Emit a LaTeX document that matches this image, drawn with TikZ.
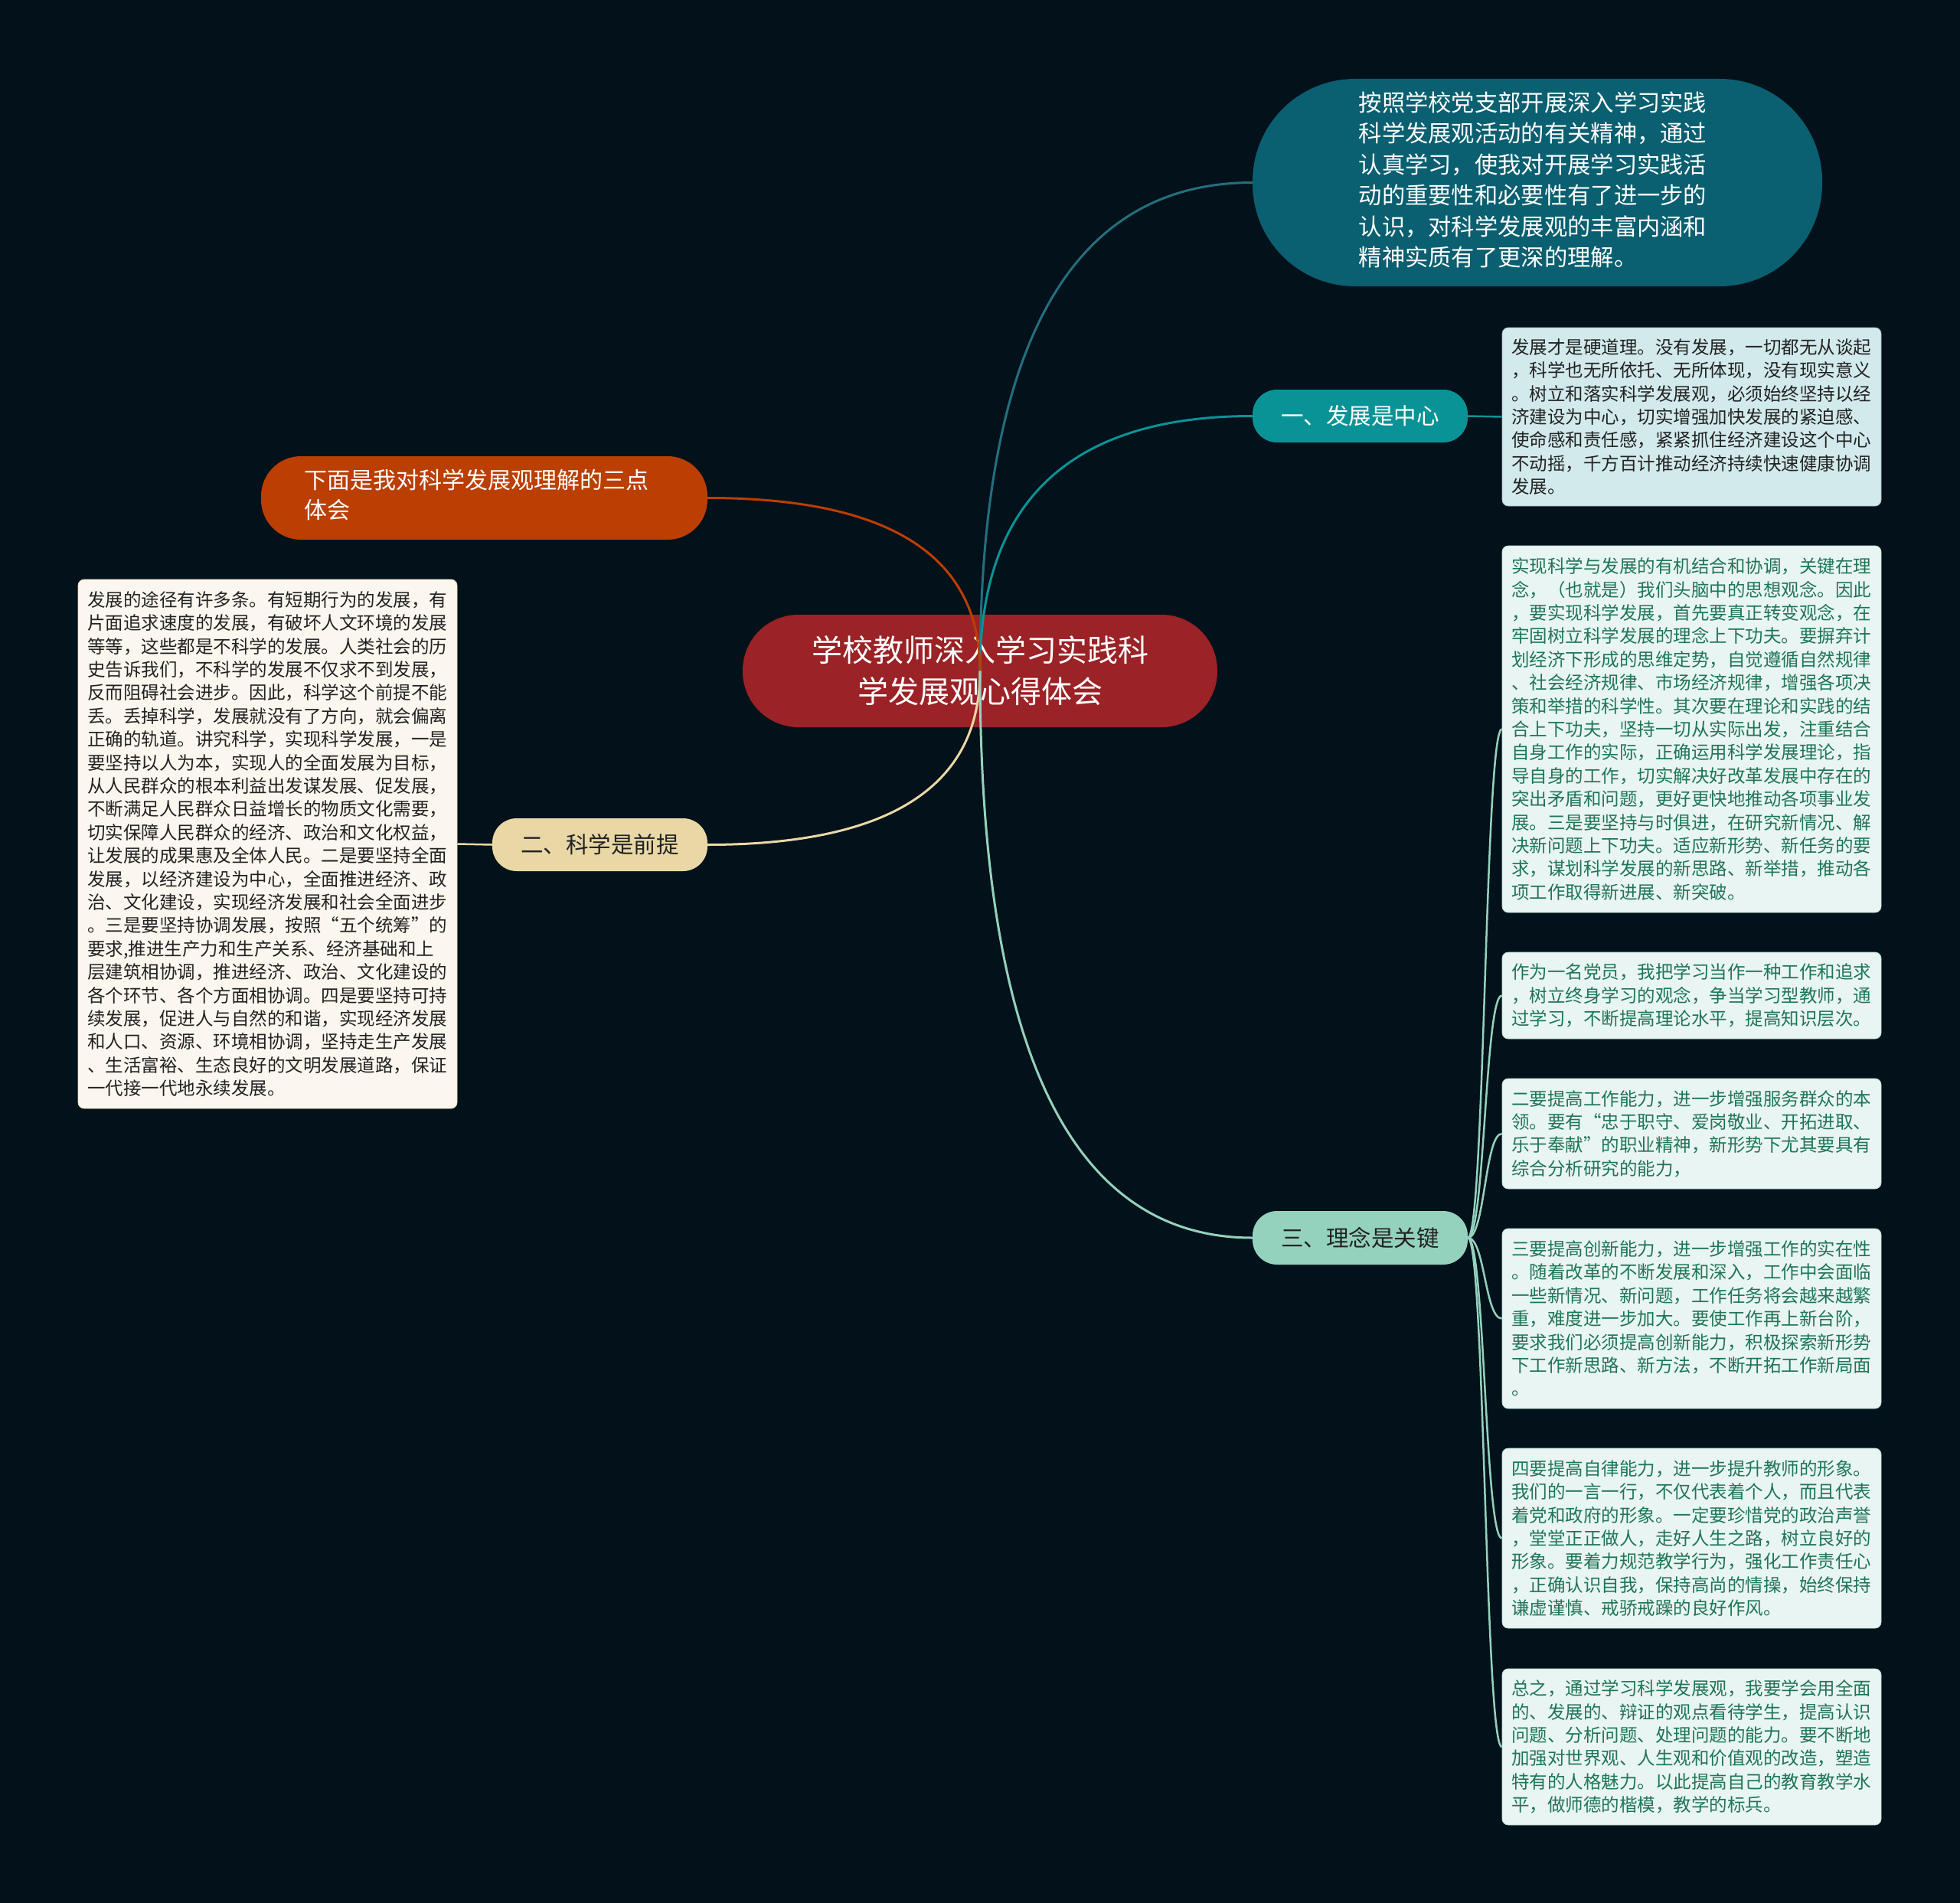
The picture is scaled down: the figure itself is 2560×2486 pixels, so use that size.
\documentclass[tikz,border=0pt]{standalone}
\usepackage{fontspec}
\setmainfont{Noto Sans CJK SC}
\usetikzlibrary{calc}
\definecolor{bgc}{HTML}{03111A}
\definecolor{rootc}{HTML}{9B2226}
\definecolor{topc}{HTML}{0A5F70}
\definecolor{onec}{HTML}{0A9396}
\definecolor{threec}{HTML}{94D2BD}
\definecolor{orangec}{HTML}{BB3E03}
\definecolor{twoc}{HTML}{E9D8A6}
\definecolor{boxblue}{HTML}{D2EAEC}
\definecolor{boxmint}{HTML}{E9F5F2}
\definecolor{boxcream}{HTML}{FBF7EE}
\definecolor{greentext}{HTML}{1F7558}
\definecolor{darktext}{HTML}{222222}
\newcommand\mmlink[3]{%
  \coordinate (mmc) at (#2 |- #3);
  \draw[#1] (#2) .. controls ($(#2)!0.667!(mmc)$) and ($(#3)!0.667!(mmc)$) .. (#3);}
\newcommand\mmsub[3]{%
  \coordinate (mmm) at ($(#2)!0.5!(#3)$);
  \draw[#1] (#2) .. controls (mmm |- #2) and (mmm |- #3) .. (#3);}
\begin{document}
\begin{tikzpicture}[x=1pt,y=-1pt,
  pillnode/.style={rounded corners=#1, inner sep=0pt, align=center},
  detail/.style={rounded corners=8pt, inner xsep=12pt, inner ysep=0pt,
    text width=471pt, align=left, minimum width=495pt,
    font=\fontsize{23.5}{30.4}\selectfont},
  conn/.style={line width=3pt},
  subconn/.style={line width=2.5pt}]
\fill[bgc] (0,0) rectangle (2560,2486);
\useasboundingbox (0,0) rectangle (2560,2486);

% root
\node[pillnode=73pt, fill=rootc, text=white, minimum width=620pt, minimum height=147pt,
  font=\fontsize{40}{54}\selectfont] (root) at (1280,876.5)
  {学校教师深入学习实践科\\学发展观心得体会};

% top right
\node[pillnode=134pt, fill=topc, text=white, minimum width=744pt, minimum height=271pt,
  font=\fontsize{30.3}{40.5}\selectfont] (top) at (2008,238.5)
  {\begin{tabular}{@{}l@{}}按照学校党支部开展深入学习实践\\科学发展观活动的有关精神，通过\\认真学习，使我对开展学习实践活\\动的重要性和必要性有了进一步的\\认识，对科学发展观的丰富内涵和\\精神实质有了更深的理解。\end{tabular}\hspace*{12pt}};

% branch one
\node[pillnode=32pt, fill=onec, text=white, minimum width=281pt, minimum height=69pt,
  font=\fontsize{29.5}{36}\selectfont] (n1) at (1776.5,543.5) {一、发展是中心};
\node[detail, fill=boxblue, draw=boxblue!80!black, line width=0.8pt, text=darktext, minimum height=233pt] (b1) at (2209.5,544.5)
  {发展才是硬道理。没有发展，一切都无从谈起\\，科学也无所依托、无所体现，没有现实意义\\。树立和落实科学发展观，必须始终坚持以经\\济建设为中心，切实增强加快发展的紧迫感、\\使命感和责任感，紧紧抓住经济建设这个中心\\不动摇，千方百计推动经济持续快速健康协调\\发展。};

% branch three
\node[pillnode=32pt, fill=threec, text=darktext, minimum width=281pt, minimum height=70pt,
  font=\fontsize{29.5}{36}\selectfont] (n3) at (1776.5,1617) {三、理念是关键};
\tikzset{mint/.style={detail, fill=boxmint, draw=threec!60!boxmint, line width=0.8pt, text=greentext}}
\node[mint, minimum height=479pt] (b2) at (2209.5,952.5)
  {实现科学与发展的有机结合和协调，关键在理\\念，（也就是）我们头脑中的思想观念。因此\\，要实现科学发展，首先要真正转变观念，在\\牢固树立科学发展的理念上下功夫。要摒弃计\\划经济下形成的思维定势，自觉遵循自然规律\\、社会经济规律、市场经济规律，增强各项决\\策和举措的科学性。其次要在理论和实践的结\\合上下功夫，坚持一切从实际出发，注重结合\\自身工作的实际，正确运用科学发展理论，指\\导自身的工作，切实解决好改革发展中存在的\\突出矛盾和问题，更好更快地推动各项事业发\\展。三是要坚持与时俱进，在研究新情况、解\\决新问题上下功夫。适应新形势、新任务的要\\求，谋划科学发展的新思路、新举措，推动各\\项工作取得新进展、新突破。};
\node[mint, minimum height=113pt] (b3) at (2209.5,1300.5)
  {作为一名党员，我把学习当作一种工作和追求\\，树立终身学习的观念，争当学习型教师，通\\过学习，不断提高理论水平，提高知识层次。};
\node[mint, minimum height=144pt] (b4) at (2209.5,1481)
  {二要提高工作能力，进一步增强服务群众的本\\领。要有“忠于职守、爱岗敬业、开拓进取、\\乐于奉献”的职业精神，新形势下尤其要具有\\综合分析研究的能力，};
\node[mint, minimum height=235pt] (b5) at (2209.5,1722.5)
  {三要提高创新能力，进一步增强工作的实在性\\。随着改革的不断发展和深入，工作中会面临\\一些新情况、新问题，工作任务将会越来越繁\\重，难度进一步加大。要使工作再上新台阶，\\要求我们必须提高创新能力，积极探索新形势\\下工作新思路、新方法，不断开拓工作新局面\\。};
\node[mint, minimum height=235pt] (b6) at (2209.5,2009.5)
  {四要提高自律能力，进一步提升教师的形象。\\我们的一言一行，不仅代表着个人，而且代表\\着党和政府的形象。一定要珍惜党的政治声誉\\，堂堂正正做人，走好人生之路，树立良好的\\形象。要着力规范教学行为，强化工作责任心\\，正确认识自我，保持高尚的情操，始终保持\\谦虚谨慎、戒骄戒躁的良好作风。};
\node[mint, minimum height=204pt] (b7) at (2209.5,2282)
  {总之，通过学习科学发展观，我要学会用全面\\的、发展的、辩证的观点看待学生，提高认识\\问题、分析问题、处理问题的能力。要不断地\\加强对世界观、人生观和价值观的改造，塑造\\特有的人格魅力。以此提高自己的教育教学水\\平，做师德的楷模，教学的标兵。};

% left side
\node[pillnode=52pt, fill=orangec, text=white, minimum width=583pt, minimum height=109pt,
  font=\fontsize{30}{39}\selectfont] (orange) at (632.5,650.5)
  {\begin{tabular}{@{}l@{}}下面是我对科学发展观理解的三点\\体会\end{tabular}\hspace*{20pt}};
\node[pillnode=32pt, fill=twoc, text=darktext, minimum width=281pt, minimum height=69pt,
  font=\fontsize{29.5}{36}\selectfont] (n2) at (783.5,1103.5) {二、科学是前提};
\node[detail, fill=boxcream, draw=twoc!70!boxcream, line width=0.8pt, text=darktext, minimum height=691pt] (lb) at (349.5,1102.5)
  {发展的途径有许多条。有短期行为的发展，有\\片面追求速度的发展，有破坏人文环境的发展\\等等，这些都是不科学的发展。人类社会的历\\史告诉我们，不科学的发展不仅求不到发展，\\反而阻碍社会进步。因此，科学这个前提不能\\丢。丢掉科学，发展就没有了方向，就会偏离\\正确的轨道。讲究科学，实现科学发展，一是\\要坚持以人为本，实现人的全面发展为目标，\\从人民群众的根本利益出发谋发展、促发展，\\不断满足人民群众日益增长的物质文化需要，\\切实保障人民群众的经济、政治和文化权益，\\让发展的成果惠及全体人民。二是要坚持全面\\发展，以经济建设为中心，全面推进经济、政\\治、文化建设，实现经济发展和社会全面进步\\。三是要坚持协调发展，按照“五个统筹”的\\要求,推进生产力和生产关系、经济基础和上\\层建筑相协调，推进经济、政治、文化建设的\\各个环节、各个方面相协调。四是要坚持可持\\续发展，促进人与自然的和谐，实现经济发展\\和人口、资源、环境相协调，坚持走生产发展\\、生活富裕、生态良好的文明发展道路，保证\\一代接一代地永续发展。};

% connectors
\mmlink{conn, draw=topc!90!white}{root.center}{top.west}
\mmlink{conn, draw=onec}{root.center}{n1.west}
\mmlink{conn, draw=orangec}{root.center}{orange.east}
\mmlink{conn, draw=twoc}{root.center}{n2.east}
\mmlink{conn, draw=threec}{root.center}{n3.west}
\draw[subconn, draw=onec] (n1.east) -- (b1.west);
\draw[subconn, draw=twoc] (n2.west) -- (lb.east);
\mmsub{subconn, draw=threec}{n3.east}{b2.west}
\mmsub{subconn, draw=threec}{n3.east}{b3.west}
\mmsub{subconn, draw=threec}{n3.east}{b4.west}
\mmsub{subconn, draw=threec}{n3.east}{b5.west}
\mmsub{subconn, draw=threec}{n3.east}{b6.west}
\mmsub{subconn, draw=threec}{n3.east}{b7.west}
\end{tikzpicture}
\end{document}
